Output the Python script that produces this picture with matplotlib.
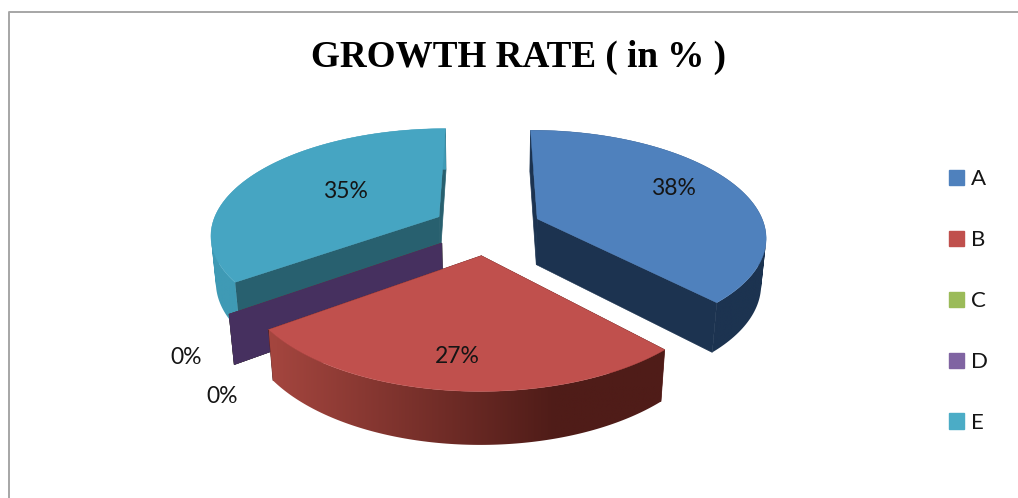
import numpy as np
import matplotlib
matplotlib.use('Agg')
import matplotlib.pyplot as plt
from matplotlib.patches import Patch, PathPatch, Polygon
from matplotlib.path import Path
from matplotlib.colors import to_rgb

categories = ['A', 'B', 'C', 'D', 'E']
growth = [38, 27, 0, 0, 35]

top_colors = ['#4f81bd', '#c0504d', '#9bbb59', '#8064a2', '#46a5c2']
wall_colors = ['#1c3350', '#5a1f1b', '#5c7033', '#46305f', '#28606f']
side_left = ['#1c3350', '#a5463f', '#5c7033', '#46305f', '#3f9ab5']
side_right = ['#1c3350', '#4f1c18', '#5c7033', '#46305f', '#3f9ab5']
legend_colors = ['#4f81bd', '#c0504d', '#9bbb59', '#8064a2', '#4bacc6']

# per-slice explosion, as a fraction of the radius
explode = [0.24, 0.255, 0.24, 0.24, 0.24]

# label anchor points, in pixels
label_xy = [(673, 188), (457, 356), (186, 357), (222, 396), (345, 191)]

# projection of the pie: centre, radii, height, perspective
X0, Y0 = 487, 228
RX, RY = 228, 105
HEIGHT = 47
PERSP = 0.155
PERSP_Z = 0.018


def project(u, v, z=0.0):
    w = 1 + PERSP * v + PERSP_Z * z
    return X0 + RX * u / w, Y0 + (-RY * v + HEIGHT * z) / w


def rim(a, off, z=0.0):
    return project(off[0] + np.sin(a), off[1] + np.cos(a), z)


def wall(a, off):
    # flat cut face running from the wedge apex out to the rim
    return [project(off[0], off[1]), rim(a, off), rim(a, off, 1), project(off[0], off[1], 1)]


def side_path(angles, off):
    # outer side as a compound of quads, all wound the same way so the fill stays solid
    parts = []
    for a0, a1 in zip(angles[:-1], angles[1:]):
        quad = np.array([rim(a0, off), rim(a1, off), rim(a1, off, 1), rim(a0, off, 1)])
        x, y = quad[:, 0], quad[:, 1]
        if np.dot(x, np.roll(y, -1)) - np.dot(y, np.roll(x, -1)) < 0:
            quad = quad[::-1]
        parts.append(Path(np.vstack([quad, quad[:1]]), closed=True))
    return Path.make_compound_path(*parts)


def shaded_side(ax, path, left, right, z):
    # horizontal gradient clipped to the outer side of a wedge
    xs, ys = path.vertices[:, 0], path.vertices[:, 1]
    t = np.clip(np.linspace(0, 1, 256) / 0.72, 0, 1)
    c1, c2 = np.array(to_rgb(left)), np.array(to_rgb(right))
    grad = (c1 + (c2 - c1) * t[:, None])[None, :, :]
    im = ax.imshow(grad, extent=(xs.min(), xs.max(), ys.max(), ys.min()),
                   aspect='auto', zorder=z)
    im.set_clip_path(PathPatch(path, transform=ax.transData))


fig = plt.figure(figsize=(10.18, 4.98), dpi=100, facecolor='white')
ax = fig.add_axes([0, 0, 1, 1])

# wedge angles, clockwise from 12 o'clock
total = sum(growth)
ends = np.cumsum(growth) / total * 2 * np.pi
starts = ends - np.array(growth) / total * 2 * np.pi

# back wedges first so the front ones paint over them
for order, i in enumerate([4, 2, 3, 0, 1]):
    a0, a1 = starts[i], ends[i]
    mid = (a0 + a1) / 2
    off = (explode[i] * np.sin(mid), explode[i] * np.cos(mid))
    z = 2 + order * 3

    ax.add_patch(Polygon(wall(a0, off), color=wall_colors[i], lw=0.5, zorder=z))
    ax.add_patch(Polygon(wall(a1, off), color=wall_colors[i], lw=0.5, zorder=z))
    if growth[i] == 0:
        continue

    angles = np.linspace(a0, a1, 121)
    shaded_side(ax, side_path(angles, off), side_left[i], side_right[i], z + 1)

    # top face
    pts = [project(off[0], off[1])] + [rim(a, off) for a in angles]
    ax.add_patch(Polygon(pts, color=top_colors[i], lw=0.3, zorder=z + 2))

# outer frame, only top and left fall inside the page
ax.set_xlim(0, 1018)
ax.set_ylim(498, 0)
ax.axis('off')
ax.plot([9.5, 9.5, 1018], [498, 11.5, 11.5], color='#a6a6a6', lw=1.4)

for xy, v in zip(label_xy, growth):
    ax.text(xy[0], xy[1], f'{v}%', ha='center', va='center', fontsize=16.5,
            family='Lato', color='#151515', zorder=30)

ax.text(519, 57, 'GROWTH RATE ( in % )', ha='center', va='center', fontsize=26.7,
        family='Liberation Serif', fontweight='bold', color='black')

handles = [Patch(color=c, label=n) for c, n in zip(legend_colors, categories)]
ax.legend(handles=handles, loc='center left', bbox_to_anchor=(949, 301),
          bbox_transform=ax.transData, frameon=False, borderpad=0, borderaxespad=0,
          prop={'family': 'Lato', 'size': 16}, labelcolor='#151515',
          handlelength=0.675, handleheight=0.675, handletextpad=0.3, labelspacing=1.84)

fig.savefig('out.png', dpi=100)
